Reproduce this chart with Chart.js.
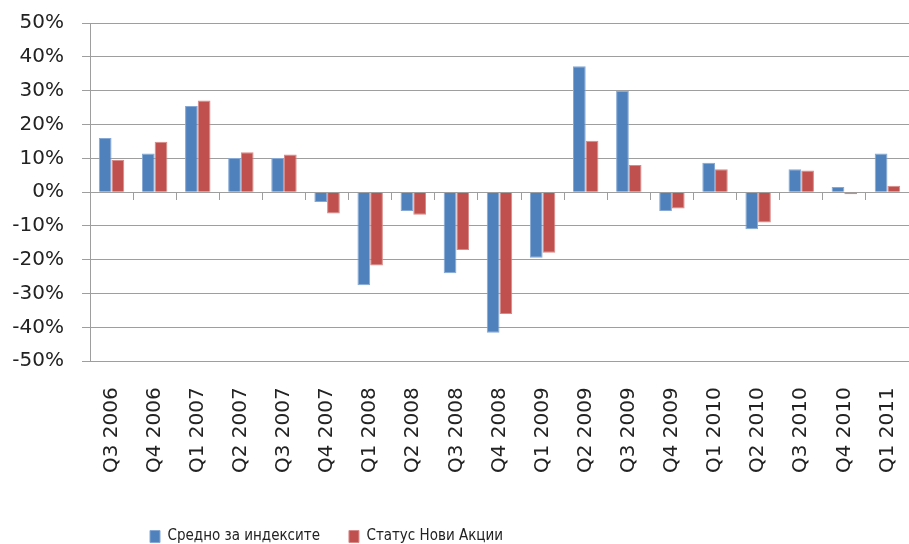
<!DOCTYPE html>
<html>
<head>
<meta charset="utf-8">
<script src="https://cdn.jsdelivr.net/npm/chart.js@4.4.1/dist/chart.umd.min.js"></script>
<style>
  html, body { margin: 0; padding: 0; background: #ffffff; }
  #wrap { position: relative; width: 909px; height: 544px; }
</style>
</head>
<body>
<div id="wrap"><canvas id="kt_chart_quarters"></canvas></div>
<script>
// Chart labels
var labels = ['Q3 2006', 'Q4 2006', 'Q1 2007', 'Q2 2007', 'Q3 2007', 'Q4 2007',
  'Q1 2008', 'Q2 2008', 'Q3 2008', 'Q4 2008', 'Q1 2009', 'Q2 2009',
  'Q3 2009', 'Q4 2009', 'Q1 2010', 'Q2 2010', 'Q3 2010', 'Q4 2010', 'Q1 2011'];

// Series values, in percent
var indexAverage = [16.0, 11.4, 25.5, 10.1, 10.1, -2.9, -27.5, -5.6, -24.0, -41.6,
  -19.4, 37.2, 30.0, -5.6, 8.7, -11.0, 6.8, 1.5, 11.4];
var newShares = [9.5, 14.9, 27.1, 11.8, 11.1, -6.3, -21.7, -6.7, -17.1, -36.0,
  -17.9, 15.2, 8.0, -4.8, 6.8, -9.0, 6.4, -0.6, 1.9];

var seriesNames = ['Средно за индексите', 'Статус Нови Акции'];

// Y axis range
var yMin = -50;
var yMax = 50;
var yStep = 10;

// Define colors
var blueColor = '#4F81BD';
var blueEdge = '#86A8D4';
var redColor = '#C0504D';
var redEdge = '#D88A88';
var gridColor = '#9E9E9E';
var textColor = '#222222';

// Moves the legend to the left like the original
var legendShift = {
  id: 'legendShift',
  afterLayout: function (chart) {
    var legend = chart.legend;
    legend.left = 150 - legend.options.labels.padding;
  }
};

// no extra side padding for the category axes
var noSidePadding = function (scale) {
  scale.paddingLeft = 0;
  scale.paddingRight = 0;
};

var ctx = document.getElementById('kt_chart_quarters');

var chart = new Chart(ctx, {
  type: 'bar',
  data: {
    labels: labels,
    datasets: [{
      label: seriesNames[0],
      data: indexAverage,
      backgroundColor: blueColor,
      borderColor: blueEdge,
      borderWidth: 1,
      categoryPercentage: 0.59,
      barPercentage: 1
    }, {
      label: seriesNames[1],
      data: newShares,
      backgroundColor: redColor,
      borderColor: redEdge,
      borderWidth: 1,
      categoryPercentage: 0.59,
      barPercentage: 1
    }]
  },
  options: {
    responsive: true,
    maintainAspectRatio: false,
    animation: false,
    layout: {
      padding: { top: 23, right: 0, left: 0, bottom: -10 }
    },
    plugins: {
      tooltip: { enabled: false },
      legend: {
        position: 'bottom',
        align: 'start',
        labels: {
          boxWidth: 10,
          boxHeight: 12,
          padding: 29,
          color: textColor,
          font: { family: '"DejaVu Sans Condensed", "DejaVu Sans", sans-serif', size: 15 }
        }
      }
    },
    scales: {
      x: {
        offset: true,
        afterFit: function (scale) {
          noSidePadding(scale);
          scale.height += 9; // room above the legend
        },
        grid: { display: false },
        border: { display: false },
        ticks: {
          autoSkip: false,
          minRotation: 90,
          maxRotation: 90,
          padding: 18,
          color: textColor,
          font: { family: '"DejaVu Sans", sans-serif', size: 20 }
        }
      },
      // tick marks along the zero line
      x2: {
        type: 'category',
        position: { y: 0 },
        offset: true,
        afterFit: noSidePadding,
        grid: {
          offset: true,
          drawOnChartArea: false,
          drawTicks: true,
          tickLength: 7,
          color: gridColor
        },
        border: { display: true, color: gridColor },
        ticks: { display: false }
      },
      y: {
        min: yMin,
        max: yMax,
        afterFit: function (scale) {
          scale.width = 90;
          scale.paddingTop = 0;
          scale.paddingBottom = 0;
        },
        ticks: {
          stepSize: yStep,
          padding: 18,
          color: textColor,
          font: { family: '"DejaVu Sans", sans-serif', size: 20 },
          callback: function (val) {
            return val + '%';
          }
        },
        grid: {
          color: gridColor,
          tickLength: 8
        },
        border: { display: true, color: gridColor }
      }
    }
  },
  plugins: [legendShift]
});
</script>
</body>
</html>
